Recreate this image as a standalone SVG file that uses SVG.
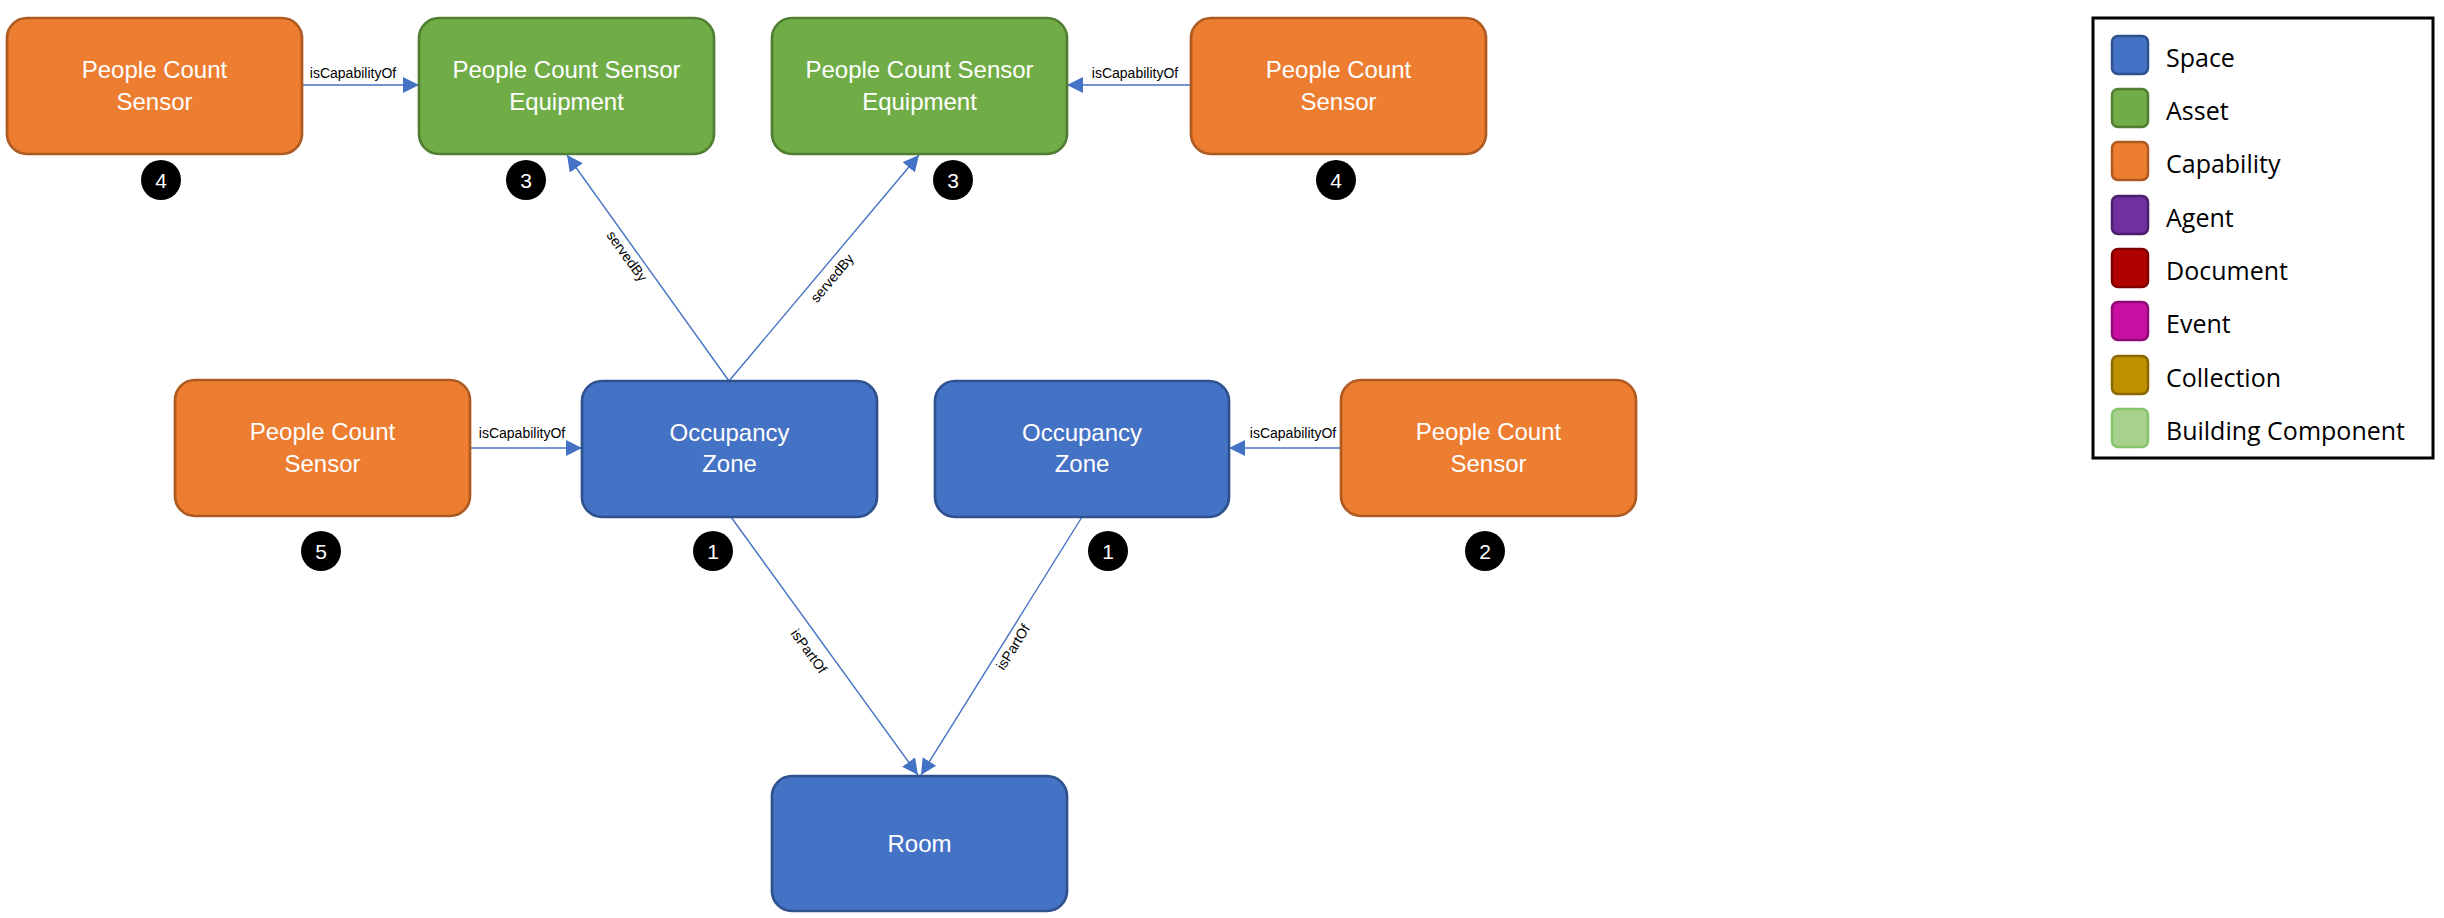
<svg xmlns="http://www.w3.org/2000/svg" width="2444" height="918" viewBox="0 0 2444 918">
<style>
.node{stroke-width:2.7}
.space{fill:#4472C4;stroke:#2F528F}
.asset{fill:#70AD47;stroke:#507E32}
.cap{fill:#ED7D31;stroke:#AE5A21}
.nt{font-family:"Liberation Sans",Arial,sans-serif;font-size:24px;fill:#ffffff;text-anchor:middle}
.num{fill:#000000}
.numt{font-family:"Liberation Sans",Arial,sans-serif;font-size:21px;fill:#ffffff;text-anchor:middle}
.conn{stroke:#4472C4;stroke-width:1.4;fill:none;marker-end:url(#arr)}
.lbl{font-family:"Liberation Sans",Arial,sans-serif;font-size:14px;fill:#000000;text-anchor:middle}
.lg{font-family:"Open Sans","Liberation Sans",sans-serif;font-size:25px;fill:#000000}
.sw{stroke-width:2.5}
</style>
<defs>
<marker id="arr" markerUnits="userSpaceOnUse" markerWidth="16" markerHeight="16" viewBox="0 0 16 16" refX="16" refY="8" orient="auto">
<path d="M0,0 L16,8 L0,16 Z" fill="#4472C4"/>
</marker>
</defs>
<rect width="2444" height="918" fill="#ffffff"/>

<g id="connectors">
<line class="conn" x1="302" y1="85" x2="419" y2="85"/>
<text class="lbl" x="353" y="78">isCapabilityOf</text>
<line class="conn" x1="1191" y1="85" x2="1067" y2="85"/>
<text class="lbl" x="1135" y="78">isCapabilityOf</text>
<line class="conn" x1="470" y1="448" x2="582" y2="448"/>
<text class="lbl" x="522" y="438">isCapabilityOf</text>
<line class="conn" x1="1341" y1="448" x2="1229" y2="448"/>
<text class="lbl" x="1293" y="438">isCapabilityOf</text>
<line class="conn" x1="729" y1="381" x2="567" y2="155"/>
<text class="lbl" transform="translate(627,256) rotate(54.2)" y="5">servedBy</text>
<line class="conn" x1="729" y1="381" x2="919" y2="155"/>
<text class="lbl" transform="translate(832,278) rotate(-50)" y="5">servedBy</text>
<line class="conn" x1="731" y1="517" x2="918" y2="775"/>
<text class="lbl" transform="translate(809,651) rotate(54)" y="5">isPartOf</text>
<line class="conn" x1="1082" y1="517" x2="921" y2="775"/>
<text class="lbl" transform="translate(1013,647) rotate(-58)" y="5">isPartOf</text>
</g>

<g id="pcs-top-left">
<rect class="node cap" x="7" y="18" width="295" height="136" rx="20"/>
<text class="nt" x="154.5" y="78">People Count</text>
<text class="nt" x="154.5" y="110">Sensor</text>
<circle class="num" cx="161" cy="180" r="20"/>
<text class="numt" x="161" y="187.5">4</text>
</g>

<g id="pcse-left">
<rect class="node asset" x="419" y="18" width="295" height="136" rx="20"/>
<text class="nt" x="566.5" y="78">People Count Sensor</text>
<text class="nt" x="566.5" y="110">Equipment</text>
<circle class="num" cx="526" cy="180" r="20"/>
<text class="numt" x="526" y="187.5">3</text>
</g>

<g id="pcse-right">
<rect class="node asset" x="772" y="18" width="295" height="136" rx="20"/>
<text class="nt" x="919.5" y="78">People Count Sensor</text>
<text class="nt" x="919.5" y="110">Equipment</text>
<circle class="num" cx="953" cy="180" r="20"/>
<text class="numt" x="953" y="187.5">3</text>
</g>

<g id="pcs-top-right">
<rect class="node cap" x="1191" y="18" width="295" height="136" rx="20"/>
<text class="nt" x="1338.5" y="78">People Count</text>
<text class="nt" x="1338.5" y="110">Sensor</text>
<circle class="num" cx="1336" cy="180" r="20"/>
<text class="numt" x="1336" y="187.5">4</text>
</g>

<g id="pcs-mid-left">
<rect class="node cap" x="175" y="380" width="295" height="136" rx="20"/>
<text class="nt" x="322.5" y="440">People Count</text>
<text class="nt" x="322.5" y="472">Sensor</text>
<circle class="num" cx="321" cy="551" r="20"/>
<text class="numt" x="321" y="558.5">5</text>
</g>

<g id="oz-left">
<rect class="node space" x="582" y="381" width="295" height="136" rx="20"/>
<text class="nt" x="729.5" y="441">Occupancy</text>
<text class="nt" x="729.5" y="472">Zone</text>
<circle class="num" cx="713" cy="551" r="20"/>
<text class="numt" x="713" y="558.5">1</text>
</g>

<g id="oz-right">
<rect class="node space" x="935" y="381" width="294" height="136" rx="20"/>
<text class="nt" x="1082" y="441">Occupancy</text>
<text class="nt" x="1082" y="472">Zone</text>
<circle class="num" cx="1108" cy="551" r="20"/>
<text class="numt" x="1108" y="558.5">1</text>
</g>

<g id="pcs-mid-right">
<rect class="node cap" x="1341" y="380" width="295" height="136" rx="20"/>
<text class="nt" x="1488.5" y="440">People Count</text>
<text class="nt" x="1488.5" y="472">Sensor</text>
<circle class="num" cx="1485" cy="551" r="20"/>
<text class="numt" x="1485" y="558.5">2</text>
</g>

<g id="room">
<rect class="node space" x="772" y="776" width="295" height="135" rx="20"/>
<text class="nt" x="919.5" y="852">Room</text>
</g>

<g id="legend">
<rect x="2093" y="18" width="340" height="440" fill="#ffffff" stroke="#000000" stroke-width="3"/>
<rect class="sw" x="2112" y="36" width="36" height="38" rx="6" fill="#4472C4" stroke="#2F528F"/>
<text class="lg" x="2166" y="67">Space</text>
<rect class="sw" x="2112" y="89" width="36" height="38" rx="6" fill="#70AD47" stroke="#507E32"/>
<text class="lg" x="2166" y="120">Asset</text>
<rect class="sw" x="2112" y="142" width="36" height="38" rx="6" fill="#ED7D31" stroke="#AE5A21"/>
<text class="lg" x="2166" y="173">Capability</text>
<rect class="sw" x="2112" y="196" width="36" height="38" rx="6" fill="#7030A0" stroke="#4A1F6B"/>
<text class="lg" x="2166" y="227">Agent</text>
<rect class="sw" x="2112" y="249" width="36" height="38" rx="6" fill="#B00000" stroke="#7F0000"/>
<text class="lg" x="2166" y="280">Document</text>
<rect class="sw" x="2112" y="302" width="36" height="38" rx="6" fill="#C90EA3" stroke="#8E0A74"/>
<text class="lg" x="2166" y="333">Event</text>
<rect class="sw" x="2112" y="356" width="36" height="38" rx="6" fill="#BF9000" stroke="#8A6800"/>
<text class="lg" x="2166" y="387">Collection</text>
<rect class="sw" x="2112" y="409" width="36" height="38" rx="6" fill="#A9D18E" stroke="#86C46C"/>
<text class="lg" x="2166" y="440">Building Component</text>
</g>
</svg>
